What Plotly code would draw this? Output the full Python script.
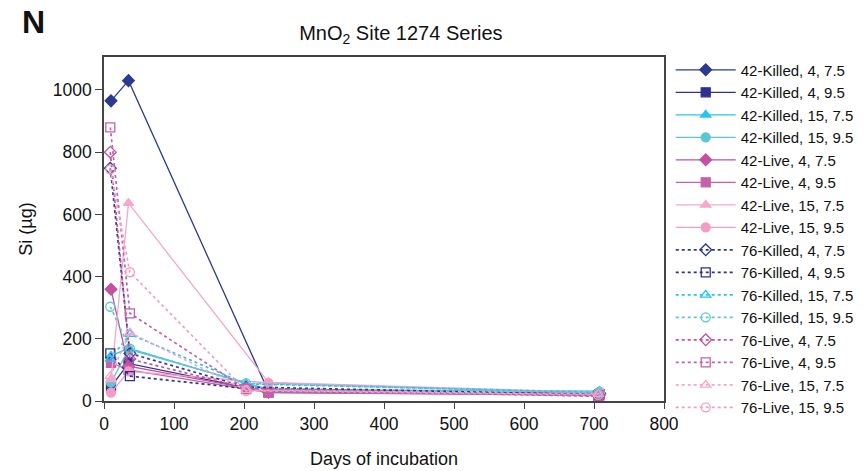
import plotly.graph_objects as go

# Sampling days for each incubation series
days_42 = [10, 35, 235, 708]
days_76 = [9, 37, 203, 706]

# Si (µg) measured at each sampling day
si_42_killed_4_75 = [965, 1030, 30, 25]
si_42_killed_4_95 = [46, 121, 28, 22]
si_42_killed_15_75 = [145, 170, 35, 32]
si_42_killed_15_95 = [59, 166, 38, 30]
si_42_live_4_75 = [359, 112, 28, 20]
si_42_live_4_95 = [123, 100, 27, 18]
si_42_live_15_75 = [70, 636, 60, 28]
si_42_live_15_95 = [27, 95, 58, 25]
si_76_killed_4_75 = [748, 153, 45, 20]
si_76_killed_4_95 = [153, 80, 40, 18]
si_76_killed_15_75 = [135, 215, 55, 28]
si_76_killed_15_95 = [303, 168, 57, 26]
si_76_live_4_75 = [800, 135, 42, 16]
si_76_live_4_95 = [880, 282, 38, 15]
si_76_live_15_75 = [80, 220, 35, 22]
si_76_live_15_95 = [745, 414, 33, 20]

series = [
    ("42-Killed, 4, 7.5", days_42, si_42_killed_4_75, "#2B3990", "diamond", "solid"),
    ("42-Killed, 4, 9.5", days_42, si_42_killed_4_95, "#2E3192", "square", "solid"),
    ("42-Killed, 15, 7.5", days_42, si_42_killed_15_75, "#27C4F0", "triangle-up", "solid"),
    ("42-Killed, 15, 9.5", days_42, si_42_killed_15_95, "#5CC6D6", "circle", "solid"),
    ("42-Live, 4, 7.5", days_42, si_42_live_4_75, "#C2519F", "diamond", "solid"),
    ("42-Live, 4, 9.5", days_42, si_42_live_4_95, "#C461A8", "square", "solid"),
    ("42-Live, 15, 7.5", days_42, si_42_live_15_75, "#F5A8CA", "triangle-up", "solid"),
    ("42-Live, 15, 9.5", days_42, si_42_live_15_95, "#F49CC3", "circle", "solid"),
    ("76-Killed, 4, 7.5", days_76, si_76_killed_4_75, "#2B3990", "diamond-open", "dot"),
    ("76-Killed, 4, 9.5", days_76, si_76_killed_4_95, "#2E3192", "square-open", "dot"),
    ("76-Killed, 15, 7.5", days_76, si_76_killed_15_75, "#27C4F0", "triangle-up-open", "dot"),
    ("76-Killed, 15, 9.5", days_76, si_76_killed_15_95, "#5CC6D6", "circle-open", "dot"),
    ("76-Live, 4, 7.5", days_76, si_76_live_4_75, "#C2519F", "diamond-open", "dot"),
    ("76-Live, 4, 9.5", days_76, si_76_live_4_95, "#C461A8", "square-open", "dot"),
    ("76-Live, 15, 7.5", days_76, si_76_live_15_75, "#F5A8CA", "triangle-up-open", "dot"),
    ("76-Live, 15, 9.5", days_76, si_76_live_15_95, "#F49CC3", "circle-open", "dot"),
]

fig = go.Figure()
for name, x, y, color, symbol, dash in series:
    fig.add_trace(go.Scatter(
        x=x, y=y, name=name, mode="lines+markers",
        line=dict(color=color, width=1.3 if dash == "solid" else 1.7, dash=dash),
        marker=dict(symbol=symbol, color=color, size=9,
                    line=dict(color=color, width=1.3)),
        cliponaxis=False,
    ))

font_family = "Liberation Sans, Arial, sans-serif"

fig.update_layout(
    width=864, height=471,
    margin=dict(l=104, r=200, t=57, b=70, autoexpand=False),
    paper_bgcolor="white", plot_bgcolor="white",
    font=dict(family=font_family, size=17, color="#111"),
    title=dict(text="MnO<sub>2</sub> Site 1274 Series", x=0.464, xanchor="center",
               y=0.93, yanchor="middle", font=dict(size=20)),
    showlegend=True,
    legend=dict(x=1.012, xanchor="left", y=1.01, yanchor="top",
                font=dict(size=15), tracegroupgap=0, itemwidth=60,
                maxheight=420, bgcolor="rgba(0,0,0,0)"),
    annotations=[dict(text="<b>N</b>", xref="paper", yref="paper",
                      x=-0.15, y=1.16, xanchor="left", yanchor="top",
                      showarrow=False, font=dict(size=32, color="#111"))],
)

fig.update_xaxes(
    range=[0, 800], tickvals=[0, 100, 200, 300, 400, 500, 600, 700, 800],
    showline=True, mirror=True, linecolor="#444", linewidth=1.5,
    ticks="outside", ticklen=6, tickcolor="#444", showgrid=False, zeroline=False,
    tickfont=dict(size=17.5), automargin=False,
    title=dict(text="Days of incubation", font=dict(size=18), standoff=20),
)
fig.update_yaxes(
    range=[0, 1106], tickvals=[0, 200, 400, 600, 800, 1000],
    showline=True, mirror=True, linecolor="#444", linewidth=1.5,
    ticks="outside", ticklen=7, tickcolor="#444", showgrid=False, zeroline=False,
    tickfont=dict(size=17.5), automargin=False,
    title=dict(text="Si (µg)", font=dict(size=18), standoff=16),
)

fig.write_html("out.html")
